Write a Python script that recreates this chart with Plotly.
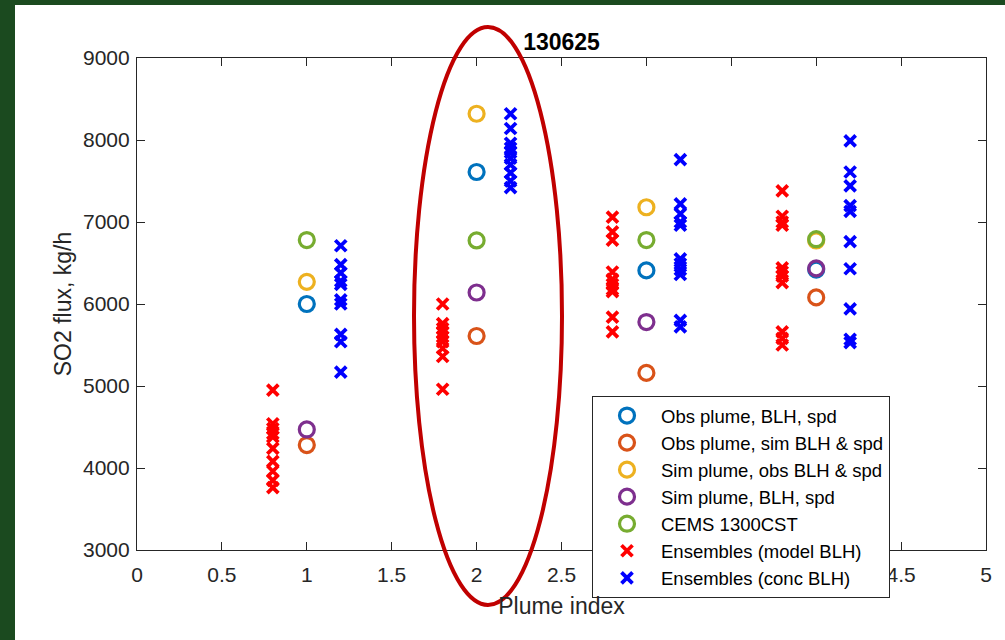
import plotly.graph_objects as go

# ---- data ----
plume_index = [1, 2, 3, 4]
obs_blh_spd = [6000, 7610, 6410, 6420]          # Obs plume, BLH, spd
obs_sim_blh_spd = [4280, 5610, 5160, 6080]      # Obs plume, sim BLH & spd
sim_obs_blh_spd = [6270, 8320, 7180, 6775]      # Sim plume, obs BLH & spd
sim_blh_spd = [4470, 6140, 5780, 6435]          # Sim plume, BLH, spd
cems_1300cst = [6780, 6775, 6780, 6790]         # CEMS 1300CST

ens_model_blh = [
    [4950, 4540, 4480, 4420, 4380, 4240, 4080, 3960, 3850, 3760],
    [6000, 5760, 5700, 5650, 5600, 5540, 5460, 5360, 4960],
    [7060, 6880, 6780, 6390, 6300, 6240, 6180, 6150, 5840, 5660],
    [7380, 7070, 7000, 6960, 6440, 6390, 6340, 6260, 5660, 5580, 5500],
]
ens_conc_blh = [
    [6710, 6480, 6380, 6280, 6240, 6050, 6000, 5630, 5540, 5170],
    [8320, 8140, 7960, 7900, 7850, 7780, 7700, 7600, 7500, 7420],
    [7760, 7220, 7100, 7000, 6960, 6550, 6490, 6420, 6360, 5800, 5720],
    [7990, 7610, 7440, 7200, 7130, 6760, 6430, 5940, 5570, 5530],
]
x_ticks = [0, 0.5, 1, 1.5, 2, 2.5, 3, 3.5, 4, 4.5, 5]
y_ticks = [3000, 4000, 5000, 6000, 7000, 8000, 9000]

# ---- layout constants ----
W, H = 1005, 640
L, R, T, B = 137, 19, 58, 90
PW, PH = W - L - R, H - T - B
ens_offset = 0.2
FONT = "Liberation Sans, Arial, sans-serif"
AX = "#262626"


def px_x(p):
    return (p - L) / PW


def px_y(p):
    return (H - B - p) / PH


fig = go.Figure()

for name, vals, col in [
    ("Obs plume, BLH, spd", obs_blh_spd, "#0072BD"),
    ("Obs plume, sim BLH & spd", obs_sim_blh_spd, "#D95319"),
    ("Sim plume, obs BLH & spd", sim_obs_blh_spd, "#EDB120"),
    ("Sim plume, BLH, spd", sim_blh_spd, "#7E2F8E"),
    ("CEMS 1300CST", cems_1300cst, "#77AC30"),
]:
    fig.add_trace(go.Scatter(x=plume_index, y=vals, mode="markers", name=name,
                             marker=dict(symbol="circle-open", size=15, color=col,
                                         line=dict(width=3.2, color=col))))

for name, groups, off, col in [
    ("Ensembles (model BLH)", ens_model_blh, -ens_offset, "#FF0000"),
    ("Ensembles (conc BLH)", ens_conc_blh, ens_offset, "#0000FF"),
]:
    xs, ys = [], []
    for p, g in zip(plume_index, groups):
        xs += [p + off] * len(g)
        ys += g
    fig.add_trace(go.Scatter(x=xs, y=ys, mode="markers", name=name,
                             marker=dict(symbol="x-thin-open", size=11, color=col,
                                         line=dict(width=3.8, color=col))))

axis_common = dict(showline=True, mirror="ticks", linecolor=AX, linewidth=1.2,
                   ticks="inside", ticklen=8, tickcolor=AX, showgrid=False,
                   zeroline=False, tickfont=dict(family=FONT, size=21, color=AX))

fig.update_xaxes(range=[0, 5], tickvals=x_ticks,
                 ticktext=[f"{v:g}" for v in x_ticks],
                 ticklabelstandoff=6,
                 title=dict(text="Plume index", font=dict(family=FONT, size=23, color=AX),
                            standoff=12),
                 **axis_common)
fig.update_yaxes(range=[3000, 9000], tickvals=y_ticks,
                 ticktext=[str(v) for v in y_ticks],
                 ticklabelstandoff=2,
                 title=dict(text="SO2 flux, kg/h", font=dict(family=FONT, size=23, color=AX),
                            standoff=4),
                 **axis_common)

green = "#1b4a1f"
shapes = [
    dict(type="rect", xref="paper", yref="paper", x0=px_x(0), x1=px_x(15),
         y0=px_y(H), y1=px_y(0), fillcolor=green, line=dict(width=0), layer="above"),
    dict(type="rect", xref="paper", yref="paper", x0=px_x(0), x1=px_x(W),
         y0=px_y(5), y1=px_y(0), fillcolor=green, line=dict(width=0), layer="above"),
    dict(type="circle", xref="paper", yref="paper", x0=px_x(414), x1=px_x(562),
         y0=px_y(605), y1=px_y(27), line=dict(color="#C00000", width=4), layer="above"),
]

fig.update_layout(
    width=W, height=H,
    margin=dict(l=L, r=R, t=T, b=B),
    paper_bgcolor="white", plot_bgcolor="white",
    font=dict(family=FONT, color=AX),
    title=dict(text="<b>130625</b>", x=0.5, xanchor="center", xref="paper",
               y=(H - 42) / H, yanchor="middle", yref="container",
               font=dict(family=FONT, size=23, color="#000000")),
    legend=dict(x=px_x(592), y=px_y(396), xanchor="left", yanchor="top",
                bgcolor="white", bordercolor=AX, borderwidth=1,
                font=dict(family=FONT, size=18.5, color="#000000"),
                itemwidth=58, tracegroupgap=0),
    shapes=shapes,
    showlegend=True,
)

fig.write_html("out.html", config={"displayModeBar": False},
               post_script="document.body.style.margin='0';"
                           "document.body.style.overflow='hidden';")
